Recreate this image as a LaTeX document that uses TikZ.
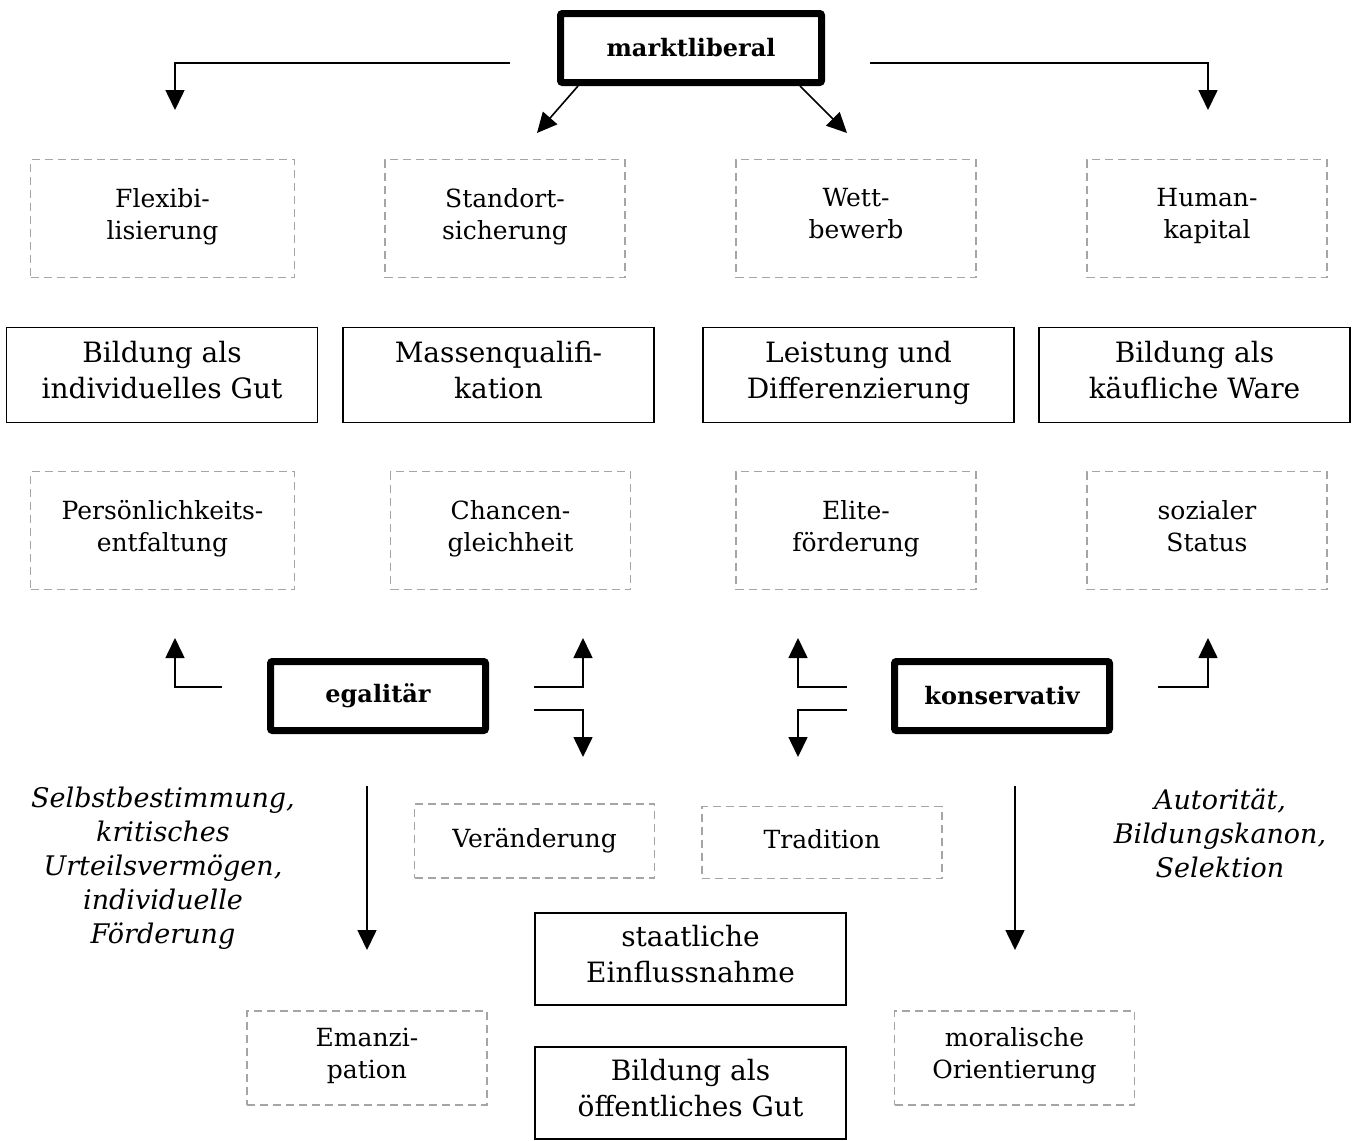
\documentclass[tikz,border=0pt]{standalone}
\usepackage{fontspec}
\setmainfont{DejaVu Serif}
\usetikzlibrary{arrows.meta, positioning, calc}
\definecolor{colDash}{RGB}{165,165,165}

\begin{document}
\begin{tikzpicture}[x=0.5pt, y=-0.5pt,
    every node/.style={align=center, inner sep=0pt},
    lines/.style={execute at begin node=\strut, execute at end node=\strut},
    dbox/.style={lines, draw=colDash, dash pattern=on 4pt off 2.5pt, line width=0.8pt,
        minimum width=120pt, minimum height=59pt, font=\fontsize{12.5}{16}\selectfont},
    sbox/.style={lines, draw, line width=0.8pt, minimum width=155.5pt, minimum height=47.5pt,
        font=\fontsize{14}{18}\selectfont},
    hbox/.style={draw, line width=3.5pt, rounded corners=1pt, minimum width=107.5pt,
        minimum height=34.5pt, font=\bfseries\fontsize{12}{14}\selectfont},
    ital/.style={font=\itshape\fontsize{13.5}{17}\selectfont},
    arr/.style={line width=0.8pt, -{Triangle[length=10pt, width=9.5pt]}}]
    \useasboundingbox (0,0) rectangle (1353,1140);

    % Kopf
    \node[hbox, minimum width=130.5pt] (ml) at (691,48) {marktliberal};

    % Zeile 1 (gestrichelt)
    \node[dbox, minimum width=132pt] (flex) at (162.5,218.5) {Flexibi-\\lisierung};
    \node[dbox] (stand) at (505,218.5) {Standort-\\sicherung};
    \node[dbox] (wett) at (856,218.5) {Wett-\\bewerb};
    \node[dbox] (human) at (1207,218.5) {Human-\\kapital};

    % Zeile 2 (durchgezogen)
    \node[sbox] (bind) at (162,375) {Bildung als\\individuelles Gut};
    \node[sbox] (mass) at (498.5,375) {Massenqualifi-\\kation};
    \node[sbox] (leist) at (858.5,375) {Leistung und\\Differenzierung};
    \node[sbox] (bkauf) at (1194.5,375) {Bildung als\\käufliche Ware};

    % Zeile 3 (gestrichelt)
    \node[dbox, minimum width=132pt] (pers) at (162.5,530.5) {Persönlichkeits-\\entfaltung};
    \node[dbox] (chanc) at (510.5,530.5) {Chancen-\\gleichheit};
    \node[dbox] (elite) at (856,530.5) {Elite-\\förderung};
    \node[dbox] (status) at (1207,530.5) {sozialer\\Status};

    % egalitaer / konservativ
    \node[hbox] (eg) at (378,696) {egalitär};
    \node[hbox] (kons) at (1002,696) {konservativ};

    % untere Ebene
    \node[ital] (egtxt) at (163,868) {Selbstbestimmung,\\kritisches\\Urteilsvermögen,\\individuelle\\Förderung};
    \node[ital] (kotxt) at (1220,833) {Autorität,\\Bildungskanon,\\Selektion};
    \node[dbox, minimum height=37pt] (ver) at (534.5,841) {Veränderung};
    \node[dbox, minimum height=36pt] (trad) at (822,842.5) {Tradition};
    \node[sbox, minimum height=46pt] (staat) at (690.5,959) {staatliche\\Einflussnahme};
    \node[sbox, minimum height=46pt] (boeff) at (690.5,1093) {Bildung als\\öffentliches Gut};
    \node[dbox, minimum height=47pt] (eman) at (367,1058) {Emanzi-\\pation};
    \node[dbox, minimum height=47pt] (moral) at (1014.5,1058) {moralische\\Orientierung};

    % Pfeilenden
    \coordinate (mlL) at (510,63);
    \coordinate (mlR) at (870,63);
    \coordinate (tFlex) at (175,110);
    \coordinate (tHum) at (1208,110);
    \coordinate (tStand) at (537,133);
    \coordinate (tWett) at (847,133);
    \coordinate (tPers) at (175,638);
    \coordinate (tChanc) at (583,638);
    \coordinate (tVer) at (583,757);
    \coordinate (tElite) at (798,638);
    \coordinate (tTrad) at (798,757);
    \coordinate (tStat) at (1208,638);
    \coordinate (tEman) at (367,950);
    \coordinate (tMoral) at (1015,950);

    % Pfeile marktliberal
    \draw[arr] (mlL) -| (tFlex);
    \draw[arr] (mlR) -| (tHum);
    \draw[arr] ([xshift=10.5pt]ml.south west) -- (tStand);
    \draw[arr] ([xshift=-12.5pt]ml.south east) -- (tWett);

    % Pfeile egalitaer
    \draw[arr] ([shift={(-22.5pt,4.5pt)}]eg.west) -| (tPers);
    \draw[arr] ([shift={(22.5pt,4.5pt)}]eg.east) -| (tChanc);
    \draw[arr] ([shift={(22.5pt,-7pt)}]eg.east) -| (tVer);
    \draw[arr] ([shift={(-5.5pt,-26pt)}]eg.south) -- (tEman);

    % Pfeile konservativ
    \draw[arr] ([shift={(-22pt,4.5pt)}]kons.west) -| (tElite);
    \draw[arr] ([shift={(-22pt,-7pt)}]kons.west) -| (tTrad);
    \draw[arr] ([shift={(22.5pt,4.5pt)}]kons.east) -| (tStat);
    \draw[arr] ([shift={(6.5pt,-26pt)}]kons.south) -- (tMoral);
\end{tikzpicture}
\end{document}
